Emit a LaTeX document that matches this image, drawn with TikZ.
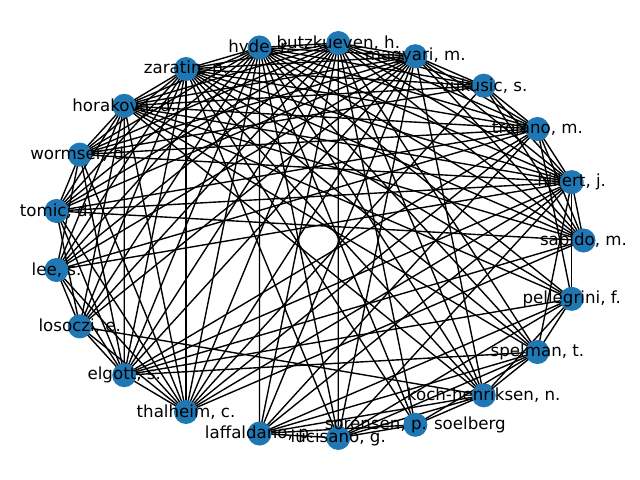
\documentclass[tikz,border=0pt]{standalone}
\usepackage{fontspec}
\setmainfont{DejaVu Sans}
\usetikzlibrary{backgrounds}
\definecolor{nxblue}{HTML}{1F77B4}
\tikzset{
  vtx/.style={circle, fill=nxblue, draw=none, inner sep=0pt, minimum size=17.3pt},
  lbl/.style={inner sep=0pt, font=\fontsize{12}{14}\selectfont, text=black},
  edge/.style={draw=black, line width=1pt}
}
\def\nxskiplist{,1011,912,9,12,112,11,212,312,311,310,313,}
\makeatletter
\newcommand\nxunlessskip[2]{\edef\nx@tmp{\noexpand\in@{,#1,}{\nxskiplist}}\nx@tmp\ifin@\else#2\fi}
\makeatother
\begin{document}
\begin{tikzpicture}[x=0.72pt,y=-0.72pt]
\useasboundingbox (0,0) rectangle (640,480);
\begin{scope}[shift={(318.5,240.5)}]
\foreach \i/\nm in {0/sab,1/hil,2/tro,3/vuk,4/mag,5/but,6/hyd,7/zar,8/hor,9/wor,10/tom,11/lee,12/los,13/elg,14/tha,15/laf,16/luc,17/sor,18/koc,19/spe,20/pel}
  \node[vtx, alias=\nm] (v\i) at ({-\i*360/21}:265 and 198) {};
\end{scope}
\begin{scope}[on background layer]
% upper and left nodes: almost all pairs joined, except those in \nxskiplist
\foreach \i in {0,...,13}{
  \pgfmathtruncatemacro\st{\i+1}
  \foreach \j in {\st,...,14}{
    \pgfmathtruncatemacro\cd{100*\i+\j}
    \nxunlessskip{\cd}{\draw[edge] (v\i.center) -- (v\j.center);}
  }
}
% lower-right nodes to upper nodes
\foreach \a/\b in {laf/hyd,laf/but,laf/mag,laf/tro,laf/hil,
                   luc/but,luc/hyd,luc/zar,luc/mag,luc/hil,
                   sor/but,sor/hyd,sor/zar,
                   koc/but,koc/mag,koc/hyd,koc/zar,koc/hor,
                   spe/hyd,spe/but,spe/zar,spe/hor,spe/hil,
                   pel/hil,pel/tro,pel/hyd,pel/zar,pel/hor}
  \draw[edge] (\a.center) -- (\b.center);
% lower-right nodes among themselves
\foreach \a/\b in {laf/luc,laf/sor,laf/koc,laf/spe,laf/pel,
                   luc/sor,luc/koc,luc/spe,luc/pel,
                   sor/koc,sor/spe,koc/spe,koc/pel,spe/pel}
  \draw[edge] (\a.center) -- (\b.center);
\draw[edge] (elg.center) -- (pel.center);
\draw[edge] (elg.center) -- (spe.center);
\draw[edge] (los.center) -- (koc.center);
\end{scope}
\node[lbl] (t0) at (sab) {sabido, m.};
\node[lbl] (t1) at (hil) {hillert, j.};
\node[lbl] (t2) at (tro) {trojano, m.};
\node[lbl] (t3) at (vuk) {vukusic, s.};
\node[lbl] (t4) at (mag) {magyari, m.};
\node[lbl] (t5) at (but) {butzkueven, h.};
\node[lbl] (t6) at (hyd) {hyde, r.};
\node[lbl] (t7) at (zar) {zaratin, p.};
\node[lbl] (t8) at (hor) {horakova, d.};
\node[lbl] (t9) at (wor) {wormser, d.};
\node[lbl] (t10) at (tom) {tomic, d.};
\node[lbl] (t11) at (lee) {lee, s.};
\node[lbl] (t12) at (los) {losoczi, e.};
\node[lbl] (t13) at (elg) {elgott, s.};
\node[lbl] (t14) at (tha) {thalheim, c.};
\node[lbl] (t15) at (laf) {laffaldano, p.};
\node[lbl] (t16) at (luc) {lucisano, g.};
\node[lbl] (t17) at (sor) {sorensen, p. soelberg};
\node[lbl] (t18) at (koc) {koch-henriksen, n.};
\node[lbl] (t19) at (spe) {spelman, t.};
\node[lbl] (t20) at (pel) {pellegrini, f.};
\end{tikzpicture}
\end{document}
